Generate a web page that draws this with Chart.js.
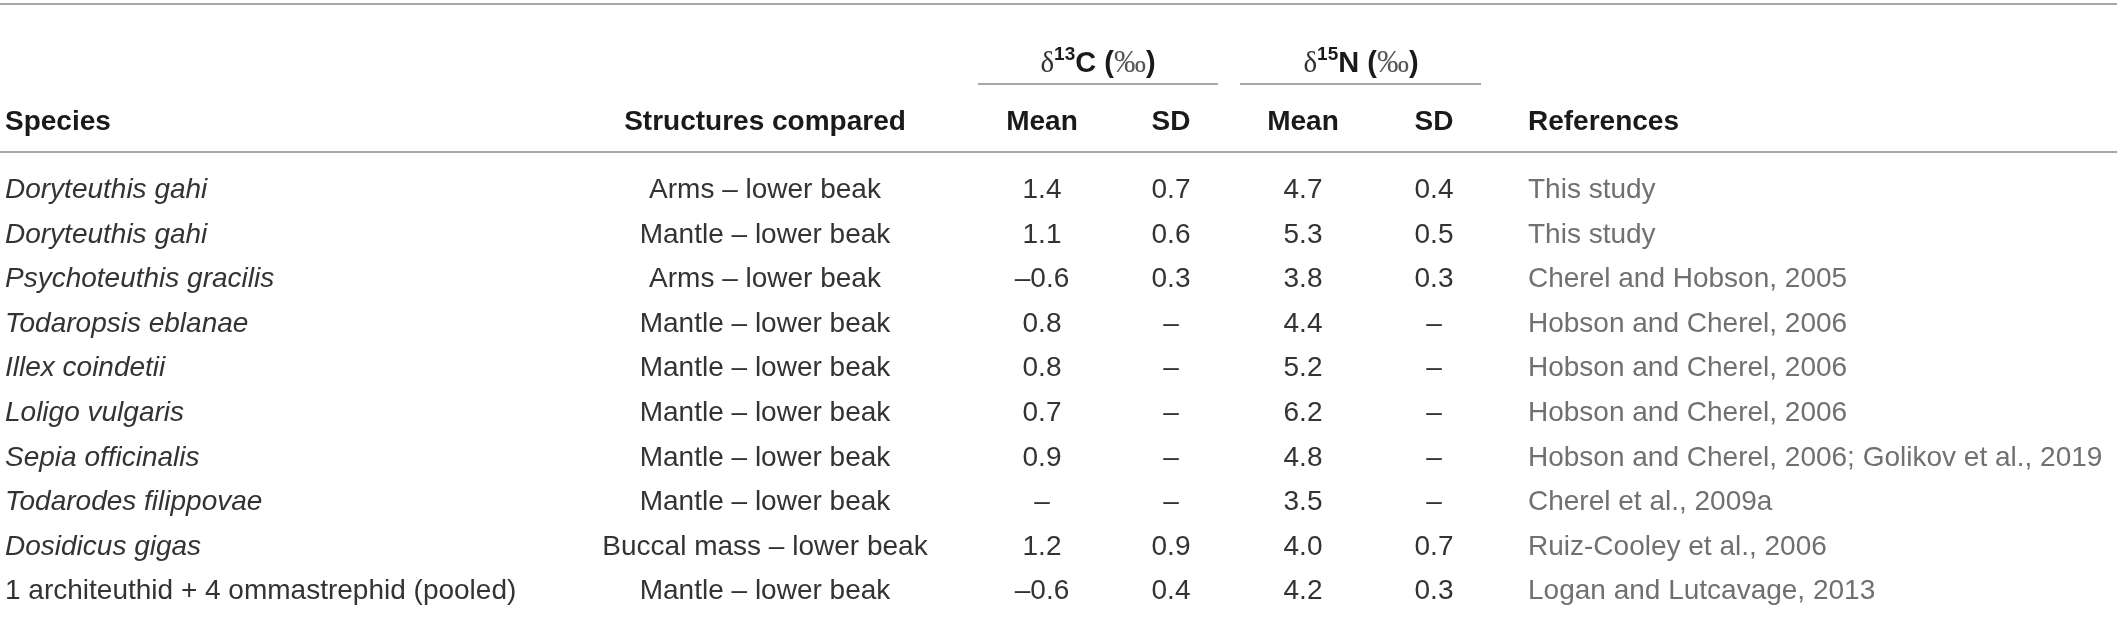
<!DOCTYPE html>
<html>
<head>
<meta charset="utf-8">
<script src="https://cdn.jsdelivr.net/npm/chart.js@4"></script>
<style>
  html, body { margin: 0; padding: 0; background: #fff; }
  canvas { display: block; }
</style>
</head>
<body>
<canvas id="tableChart" width="2117" height="641"></canvas>
<script>
// table rows
const species = [
  'Doryteuthis gahi', 'Doryteuthis gahi', 'Psychoteuthis gracilis', 'Todaropsis eblanae',
  'Illex coindetii', 'Loligo vulgaris', 'Sepia officinalis', 'Todarodes filippovae',
  'Dosidicus gigas', '1 architeuthid + 4 ommastrephid (pooled)'
];
const italicSpecies = [true, true, true, true, true, true, true, true, true, false];
const structures = [
  'Arms – lower beak', 'Mantle – lower beak', 'Arms – lower beak', 'Mantle – lower beak',
  'Mantle – lower beak', 'Mantle – lower beak', 'Mantle – lower beak', 'Mantle – lower beak',
  'Buccal mass – lower beak', 'Mantle – lower beak'
];
const c13Mean = [1.4, 1.1, -0.6, 0.8, 0.8, 0.7, 0.9, null, 1.2, -0.6];
const c13SD   = [0.7, 0.6, 0.3, null, null, null, null, null, 0.9, 0.4];
const n15Mean = [4.7, 5.3, 3.8, 4.4, 5.2, 6.2, 4.8, 3.5, 4.0, 4.2];
const n15SD   = [0.4, 0.5, 0.3, null, null, null, null, null, 0.7, 0.3];
const references = [
  'This study', 'This study', 'Cherel and Hobson, 2005', 'Hobson and Cherel, 2006',
  'Hobson and Cherel, 2006', 'Hobson and Cherel, 2006',
  'Hobson and Cherel, 2006; Golikov et al., 2019', 'Cherel et al., 2009a',
  'Ruiz-Cooley et al., 2006', 'Logan and Lutcavage, 2013'
];

function fmt(v) {
  if (v === null) return '–';
  return v.toFixed(1).replace('-', '–');
}

// layout
const SANS = '"Liberation Sans", Arial, sans-serif';
const SERIF = '"Liberation Serif", "Times New Roman", serif';
const colAnchor = { species: 5, structures: 765, c13Mean: 1042, c13SD: 1171, n15Mean: 1303, n15SD: 1434, refs: 1528 };
const bodyColor = '#333333';
const refColor = '#707070';
const lineColor = '#8a8a8a';

function column(anchor, texts, align, font, color) {
  return {
    data: texts.map((_, i) => ({ x: anchor, y: i })),
    texts: texts, align: align, fonts: font, color: color,
    pointRadius: 0, pointHoverRadius: 0
  };
}

const datasets = [
  column(colAnchor.species, species, 'left', species.map((_, i) => (italicSpecies[i] ? 'italic ' : '') + '28px ' + SANS), bodyColor),
  column(colAnchor.structures, structures, 'center', '28px ' + SANS, bodyColor),
  column(colAnchor.c13Mean, c13Mean.map(fmt), 'center', '28px ' + SANS, bodyColor),
  column(colAnchor.c13SD, c13SD.map(fmt), 'center', '28px ' + SANS, bodyColor),
  column(colAnchor.n15Mean, n15Mean.map(fmt), 'center', '28px ' + SANS, bodyColor),
  column(colAnchor.n15SD, n15SD.map(fmt), 'center', '28px ' + SANS, bodyColor),
  column(colAnchor.refs, references, 'left', '28px ' + SANS, refColor)
];

function drawPieces(ctx, pieces, cx, y) {
  let w = 0;
  pieces.forEach(p => { ctx.font = p.font; w += ctx.measureText(p.t).width; });
  let x = cx - w / 2;
  ctx.textAlign = 'left';
  pieces.forEach(p => {
    ctx.font = p.font;
    ctx.fillStyle = p.color || '#1a1a1a';
    ctx.fillText(p.t, x, y + (p.dy || 0));
    x += ctx.measureText(p.t).width;
  });
}

function hline(ctx, x1, x2, y) {
  ctx.beginPath();
  ctx.moveTo(x1, y);
  ctx.lineTo(x2, y);
  ctx.stroke();
}

const tablePlugin = {
  id: 'tableText',
  afterDatasetsDraw(chart) {
    const ctx = chart.ctx;
    const xs = chart.scales.x;
    const top = chart.chartArea.top;
    ctx.save();
    ctx.textBaseline = 'middle';

    chart.data.datasets.forEach((ds, d) => {
      const meta = chart.getDatasetMeta(d);
      ctx.fillStyle = ds.color;
      ctx.textAlign = ds.align;
      meta.data.forEach((pt, i) => {
        ctx.font = Array.isArray(ds.fonts) ? ds.fonts[i] : ds.fonts;
        ctx.fillText(ds.texts[i], pt.x, pt.y);
      });
    });

    // header rules
    ctx.strokeStyle = lineColor;
    ctx.lineWidth = 1.5;
    hline(ctx, 0, chart.width, top - 164);
    hline(ctx, 978, 1218, top - 84);
    hline(ctx, 1240, 1481, top - 84);
    hline(ctx, 0, chart.width, top - 16);

    ctx.fillStyle = '#1a1a1a';
    const bold = 'bold 28px ' + SANS;
    const hy = top - 46;
    ctx.font = bold;
    ctx.textAlign = 'left';
    ctx.fillText('Species', xs.getPixelForValue(colAnchor.species), hy);
    ctx.fillText('References', xs.getPixelForValue(colAnchor.refs), hy);
    ctx.textAlign = 'center';
    ctx.fillText('Structures compared', xs.getPixelForValue(colAnchor.structures), hy);
    ctx.fillText('Mean', xs.getPixelForValue(colAnchor.c13Mean), hy);
    ctx.fillText('SD', xs.getPixelForValue(colAnchor.c13SD), hy);
    ctx.fillText('Mean', xs.getPixelForValue(colAnchor.n15Mean), hy);
    ctx.fillText('SD', xs.getPixelForValue(colAnchor.n15SD), hy);

    const gy = top - 104;
    const gbold = 'bold 29px ' + SANS;
    const group = (iso, el) => [
      { t: 'δ', font: '29px ' + SERIF, color: '#333' },
      { t: iso, font: 'bold 19px ' + SANS, dy: -9 },
      { t: el + ' (', font: gbold },
      { t: '‰', font: '32px ' + SERIF, color: '#555' },
      { t: ')', font: gbold }
    ];
    drawPieces(ctx, group('13', 'C'), 1098, gy);
    drawPieces(ctx, group('15', 'N'), 1361, gy);
    ctx.restore();
  }
};

new Chart(document.getElementById('tableChart'), {
  type: 'scatter',
  data: { labels: species, datasets: datasets },
  options: {
    responsive: false,
    animation: false,
    events: [],
    layout: { padding: { top: 168, bottom: 27, left: 0, right: 0 } },
    plugins: { legend: { display: false }, tooltip: { enabled: false } },
    scales: {
      x: { type: 'linear', min: 0, max: 2117, display: false },
      y: { type: 'category', labels: species, offset: true, display: false }
    }
  },
  plugins: [tablePlugin]
});
</script>
</body>
</html>
